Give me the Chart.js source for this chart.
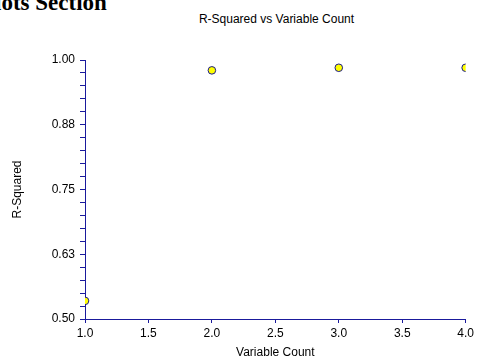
<!DOCTYPE html>
<html>
<head>
<meta charset="utf-8">
<script src="https://cdn.jsdelivr.net/npm/chart.js@4/dist/chart.umd.min.js"></script>
<style>
  html, body { margin: 0; padding: 0; background: #fff; }
  body { width: 477px; height: 360px; position: relative; overflow: hidden; }
  #section { position: absolute; left: -19px; top: -10px; font: bold 23px "Liberation Serif", "Times New Roman", serif; color: #000; white-space: nowrap; }
  #title { position: absolute; left: 85px; width: 383px; top: 12px; text-align: center; font: 12px "Liberation Sans", Arial, sans-serif; color: #000; }
  #wrap { position: absolute; left: 0; top: 0; width: 477px; height: 360px; }
</style>
</head>
<body>
<div id="section">Plots Section</div>
<div id="title">R-Squared vs Variable Count</div>
<div id="wrap"><canvas id="chart" width="477" height="360"></canvas></div>
<script>
const variableCounts = [1, 2, 3, 4];
const rSquared = [0.535, 0.980, 0.985, 0.985];
const yMajorTicks = [0.5, 0.625, 0.75, 0.875, 1.0];
const xTicks = [1.0, 1.5, 2.0, 2.5, 3.0, 3.5, 4.0];

const axisColor = "#1a1a9c";
const font = { family: "'Liberation Sans', Arial, sans-serif", size: 12 };

function isMajor(value) {
  return yMajorTicks.some((t) => Math.abs(t - value) < 1e-6);
}

new Chart(document.getElementById("chart"), {
  type: "scatter",
  data: {
    datasets: [
      {
        data: variableCounts.map((x, i) => ({ x, y: rSquared[i] })),
        backgroundColor: "#ffff00",
        borderColor: "#1a1a8c",
        borderWidth: 1,
        pointRadius: 3.8,
        pointHoverRadius: 3.8,
      },
    ],
  },
  options: {
    responsive: false,
    animation: false,
    layout: { padding: { left: 0, right: 9, top: 60, bottom: 0 } },
    plugins: {
      legend: { display: false },
      tooltip: { enabled: false },
      title: { display: false },
    },
    scales: {
      x: {
        type: "linear",
        min: 1,
        max: 4,
        afterBuildTicks(scale) {
          scale.ticks = xTicks.map((value) => ({ value }));
        },
        afterFit(scale) {
          scale.height = 41;
        },
        ticks: {
          color: "#000",
          font,
          padding: 3,
          maxRotation: 0,
          callback: (v) => Number(v).toFixed(1),
        },
        grid: { drawOnChartArea: false, drawTicks: true, tickLength: 4, color: axisColor },
        border: { color: axisColor, width: 1 },
        title: { display: true, text: "Variable Count", color: "#000", font, padding: { top: 0, bottom: 0 } },
      },
      y: {
        type: "linear",
        min: 0.5,
        max: 1.0,
        afterFit(scale) {
          scale.width = 85;
        },
        ticks: {
          stepSize: 0.025,
          autoSkip: false,
          color: "#000",
          font,
          padding: 5,
          callback: (v) => (isMajor(v) ? v.toFixed(2) : ""),
        },
        grid: { drawOnChartArea: false, drawTicks: true, tickLength: 5, color: axisColor },
        border: { color: axisColor, width: 1 },
        title: { display: true, text: "R-Squared", color: "#000", font, padding: { top: 10, bottom: 0 } },
      },
    },
  },
});
</script>
</body>
</html>
